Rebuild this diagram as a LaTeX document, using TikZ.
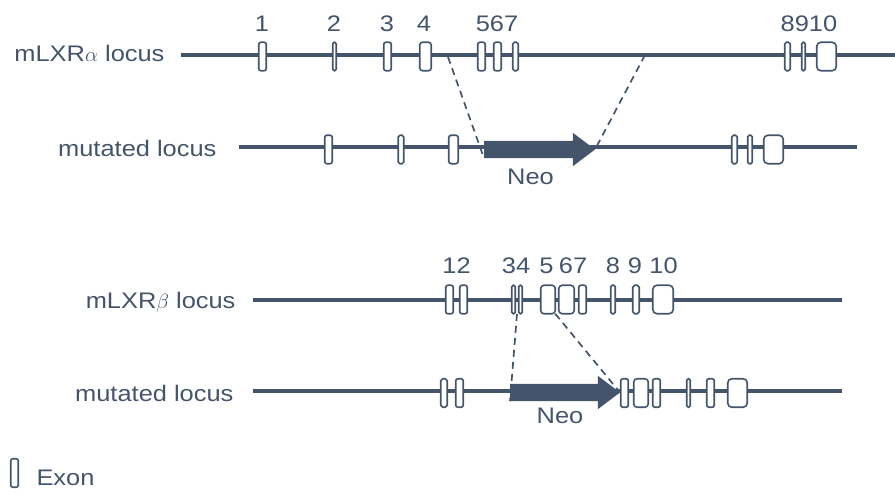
\documentclass[tikz,border=0pt]{standalone}
\usepackage{fontspec}
\setmainfont{Liberation Sans}[FakeStretch=1.13]
\usepackage{tikz}
\usetikzlibrary{shapes.arrows, arrows.meta}
\definecolor{LXRSlate}{RGB}{68,84,106}

\begin{document}
\begin{tikzpicture}[x=1pt, y=-1pt,
    every node/.style={text=LXRSlate, font=\fontsize{22.5}{27}\selectfont},
    locus/.style={draw=LXRSlate, line width=4pt},
    exon/.style={rectangle, draw=LXRSlate, fill=white, line width=1.6pt,
                 rounded corners=2pt, minimum height=28.5pt,
                 inner sep=0pt, outer sep=0pt},
    neo/.style={single arrow, fill=LXRSlate, inner xsep=0pt, inner ysep=8.5pt,
                single arrow head extend=8pt, single arrow tip angle=74,
                anchor=tail, outer sep=0pt},
    link/.style={draw=LXRSlate, line width=1.7pt, dash pattern=on 7pt off 5pt},
    num/.style={anchor=base}
  ]
  \useasboundingbox (0,0) rectangle (895,495);

  % mLXR alpha
  \node[anchor=base east] (alab) at (168,62) {mLXR$\alpha$ locus};
  \draw[locus] (181,55) -- (895,55);
  \foreach \n/\x/\w in {1/262.5/9, 2/334.5/5, 3/387.5/9, 4/425.5/13, 5/481.5/9,
                        6/497.5/9, 7/515.5/7, 8/787.5/7, 9/803.5/5, 10/826.5/21}
    \node[exon, minimum width=\w-1.5, rounded corners={\w/6+0.6}] (a\n) at (\x,56.5) {};
  \foreach \t/\x in {1/262, 2/334, 3/387, 4/424, 567/497, 8910/809}
    \node[num] (na\t) at (\x,32) {\t};

  % mutated alpha
  \node[anchor=base east] (amlab) at (220,157) {mutated locus};
  \draw[locus] (239,147) -- (857,147);
  \foreach \n/\x/\w in {1/328.5/9, 2/401/7, 3/453.5/11, 4/734.5/7, 5/750/6, 6/773.5/21}
    \node[exon, minimum width=\w-1.5, rounded corners={\w/6+0.6}] (am\n) at (\x,149.5) {};
  \node[neo, minimum height=111] (neoa) at (484,149.5) {};
  \node[anchor=base] (neoatxt) at (530.5,184) {Neo};

  \coordinate (acut1) at (448,57);
  \coordinate (acut2) at (645,55);
  \draw[link] (acut1) -- (neoa.before tail);
  \draw[link] (acut2) -- (neoa.tip);

  % mLXR beta
  \node[anchor=base east] (blab) at (239,308) {mLXR$\beta$ locus};
  \draw[locus] (253,299.5) -- (842,299.5);
  \foreach \n/\x/\w in {1/449.5/9, 2/463.5/9, 3/513.5/5, 4/520.5/5, 5/548/16,
                        6/566.5/17, 7/582.5/9, 8/613/6, 9/636/8, 10/663/22}
    \node[exon, minimum width=\w-1.5, rounded corners={\w/6+0.6}] (b\n) at (\x,299.5) {};
  \foreach \t/\x in {12/456.5, 34/516, 5/546.5, 67/573, 8/613, 9/635, 10/663.5}
    \node[num] (nb\t) at (\x,273) {\t};

  % mutated beta
  \node[anchor=base east] (bmlab) at (237,401) {mutated locus};
  \draw[locus] (253,390.5) -- (842,390.5);
  \foreach \n/\x/\w in {1/444/8, 2/459.5/9, 3/624.5/9, 4/641/16, 5/656.5/9,
                        6/688.5/5, 7/710.5/9, 8/737.5/21}
    \node[exon, minimum width=\w-1.5, rounded corners={\w/6+0.6}] (bm\n) at (\x,393) {};
  \node[neo, minimum height=110] (neob) at (510,392.5) {};
  \node[anchor=base] (neobtxt) at (560,423) {Neo};

  \coordinate (bcut1) at (517,314);
  \draw[link] (bcut1) -- (neob.before tail);
  \draw[link] (b5.south east) -- (neob.tip);

  % legend
  \node[exon, minimum width=7.5, rounded corners=2pt] (legexon) at (14.5,473) {};
  \node[anchor=base west] (legtxt) at (33,485) {Exon};
\end{tikzpicture}
\end{document}
